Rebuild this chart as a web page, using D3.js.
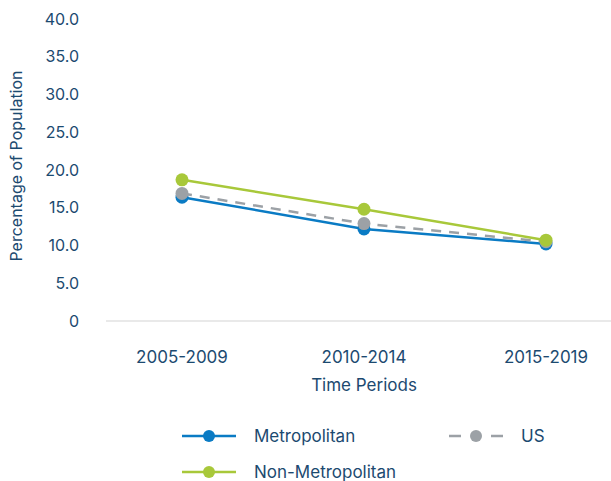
<!DOCTYPE html>
<html lang="en">

<head>
    <meta charset="UTF-8">
    <title>Percentage of Population by Time Period</title>
    <script src="https://d3js.org/d3.v7.min.js"></script>
    <style>
        body {
            margin: 0;
            background: #fff;
            font-family: Inter, "Open Sans", sans-serif;
        }

        .tick-label {
            font-size: 16px;
            fill: #1c4a70;
        }

        .x-label {
            font-size: 17px;
            fill: #1c4a70;
        }

        .axis-title {
            font-size: 17px;
            fill: #1c4a70;
        }
    </style>
</head>

<body>
    <svg id="chart" width="611" height="481"></svg>

    <script>
        const periods = ["2005-2009", "2010-2014", "2015-2019"];
        const metroValues = [16.4, 12.2, 10.2];
        const usValues = [16.9, 12.9, 10.5];
        const nonMetroValues = [18.7, 14.8, 10.7];
        const yTicks = [0, 5, 10, 15, 20, 25, 30, 35, 40];

        const series = [
            { name: "Metropolitan", values: metroValues, color: "#0a7bc4", dash: null },
            { name: "US", values: usValues, color: "#9ca1a6", dash: "10,8" },
            { name: "Non-Metropolitan", values: nonMetroValues, color: "#a8c83a", dash: null }
        ];

        const svg = d3.select("#chart");

        const x = d3.scalePoint().domain(periods).range([182, 546]);
        const y = d3.scaleLinear().domain([0, 40]).range([321, 19]);

        // baseline
        svg.append("line")
            .attr("x1", 106).attr("x2", 611)
            .attr("y1", y(0)).attr("y2", y(0))
            .style("stroke", "#d3d3d3")
            .style("stroke-width", 1.2);

        // y tick labels
        svg.selectAll(".ytick")
            .data(yTicks)
            .enter().append("text")
            .attr("class", "tick-label")
            .attr("x", 79)
            .attr("y", d => y(d))
            .attr("dy", "0.35em")
            .attr("text-anchor", "end")
            .text(d => d === 0 ? "0" : d.toFixed(1));

        // x tick labels
        svg.selectAll(".xtick")
            .data(periods)
            .enter().append("text")
            .attr("class", "x-label")
            .attr("x", d => x(d))
            .attr("y", 363)
            .attr("text-anchor", "middle")
            .text(d => d);

        svg.append("text")
            .attr("class", "axis-title")
            .attr("x", x(periods[1]))
            .attr("y", 391)
            .attr("text-anchor", "middle")
            .text("Time Periods");

        svg.append("text")
            .attr("class", "axis-title")
            .style("font-size", "16px")
            .attr("transform", "translate(22,166) rotate(-90)")
            .attr("text-anchor", "middle")
            .text("Percentage of Population");

        const line = d3.line()
            .x((d, i) => x(periods[i]))
            .y(d => y(d));

        series.forEach(s => {
            svg.append("path")
                .datum(s.values)
                .attr("d", line)
                .style("fill", "none")
                .style("stroke", s.color)
                .style("stroke-width", 2.5)
                .style("stroke-dasharray", s.dash);

            svg.selectAll(null)
                .data(s.values)
                .enter().append("circle")
                .attr("cx", (d, i) => x(periods[i]))
                .attr("cy", d => y(d))
                .attr("r", 6.5)
                .style("fill", s.color);
        });

        // legend
        const legendPos = [
            { x: 182, y: 436 },
            { x: 449, y: 436 },
            { x: 182, y: 472 }
        ];

        series.forEach((s, i) => {
            const p = legendPos[i];
            const g = svg.append("g").attr("transform", `translate(${p.x},${p.y})`);
            g.append("line")
                .attr("x1", 0).attr("x2", 54)
                .style("stroke", s.color)
                .style("stroke-width", 2.5)
                .style("stroke-dasharray", s.dash ? "12,30" : null);
            g.append("circle")
                .attr("cx", 27)
                .attr("r", 6)
                .style("fill", s.color);
            g.append("text")
                .attr("class", "axis-title")
                .attr("x", 72)
                .attr("dy", "0.35em")
                .text(s.name);
        });
    </script>
</body>

</html>
